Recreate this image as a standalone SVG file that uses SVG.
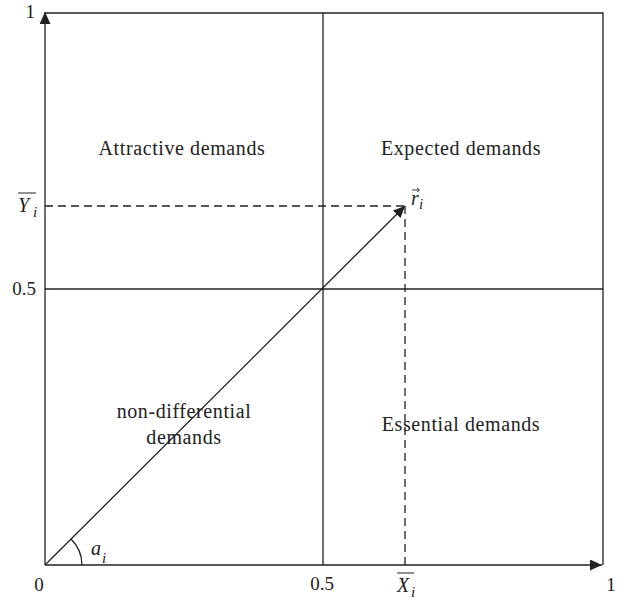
<svg xmlns="http://www.w3.org/2000/svg" width="629" height="604" viewBox="0 0 629 604">
<defs>
<style>
text{font-family:"Liberation Serif","DejaVu Serif",serif;font-size:19px;fill:#222}
.t{font-size:20px;letter-spacing:0.6px}
.m{font-style:italic;font-size:20px}
.s{font-style:italic;font-size:15px}
.ln{stroke:#222;stroke-width:1.3;fill:none}
.d{stroke:#222;stroke-width:1.3;fill:none;stroke-dasharray:8,5}
</style>
<marker id="ah" viewBox="0 0 12 11" refX="12" refY="5.5" markerWidth="12" markerHeight="11" markerUnits="userSpaceOnUse" orient="auto"><path d="M0,0L12,5.5L0,11z" fill="#222"/></marker>
</defs>
<rect width="629" height="604" fill="#fff"/>
<g id="connectors">
<line class="ln" x1="45" y1="565" x2="45" y2="12" marker-end="url(#ah)"/>
<line class="ln" x1="45" y1="565" x2="602" y2="565" marker-end="url(#ah)"/>
<polyline class="ln" points="45,13 603,13 603,565"/>
<line class="ln" x1="323" y1="13" x2="323" y2="565"/>
<line class="ln" x1="45" y1="289" x2="603" y2="289"/>
<line class="d" x1="45" y1="206" x2="405" y2="206"/>
<line class="d" x1="405" y1="206" x2="405" y2="565"/>
<line class="ln" x1="45" y1="565" x2="405" y2="206" marker-end="url(#ah)"/>
<path class="ln" d="M82,565 A37,37 0 0 0 71,539"/>
</g>
<g id="q-attractive"><text class="t" x="182" y="155" text-anchor="middle">Attractive demands</text></g>
<g id="q-expected"><text class="t" x="461" y="155" text-anchor="middle">Expected demands</text></g>
<g id="q-nondiff"><text class="t" x="184" y="418" text-anchor="middle">non-differential</text><text class="t" x="184" y="444" text-anchor="middle">demands</text></g>
<g id="q-essential"><text class="t" x="461" y="431" text-anchor="middle">Essential demands</text></g>
<g id="labels">
<text x="35" y="18" text-anchor="end">1</text>
<text x="36" y="295" text-anchor="end">0.5</text>
<text x="18" y="212" class="m">Y</text><text x="33" y="217" class="s">i</text>
<line x1="18" y1="193" x2="36" y2="193" stroke="#222" stroke-width="1"/>
<text x="39" y="591" text-anchor="middle">0</text>
<text x="322" y="590" text-anchor="middle">0.5</text>
<text x="397" y="592" class="m">X</text><text x="411" y="597" class="s">i</text>
<line x1="397" y1="573" x2="414" y2="573" stroke="#222" stroke-width="1"/>
<text x="611" y="591" text-anchor="middle">1</text>
<text x="411" y="205" class="m">r</text><text x="419" y="209" class="s">i</text>
<line x1="412" y1="190" x2="419" y2="190" stroke="#222" stroke-width="0.9"/>
<path d="M417,188 L419.5,190 L417,192" fill="none" stroke="#222" stroke-width="0.9"/>
<text x="91" y="555" class="m">a</text><text x="102" y="563" class="s">i</text>
</g>
</svg>
